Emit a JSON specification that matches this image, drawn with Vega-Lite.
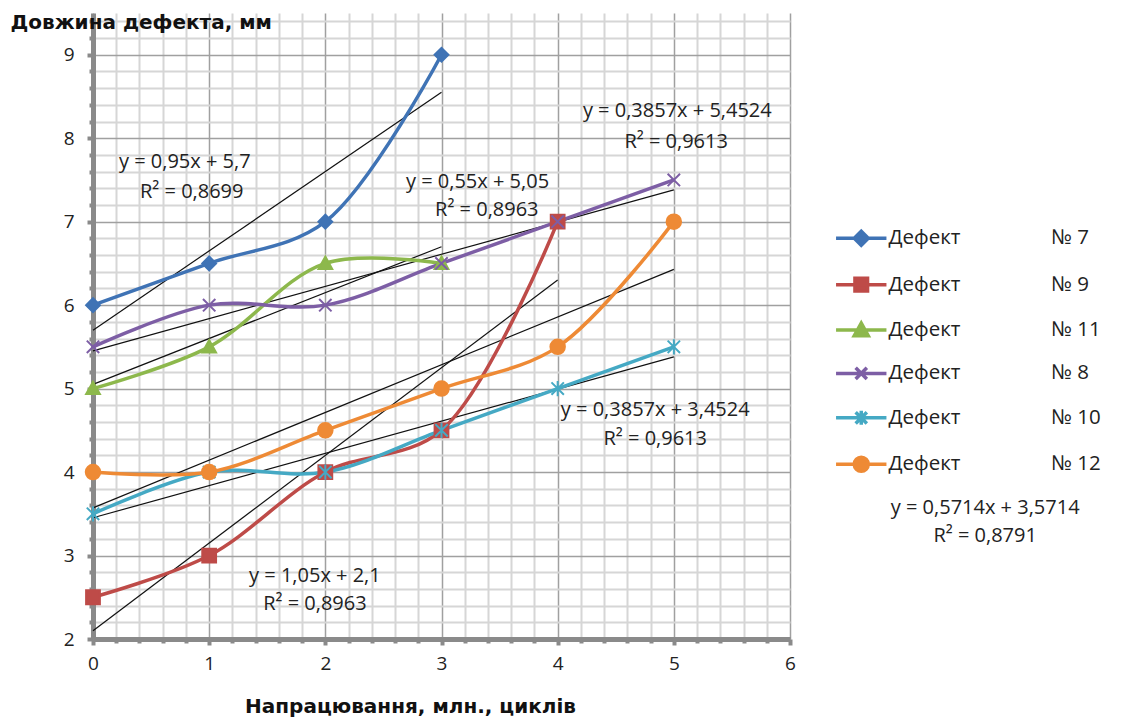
{
  "$schema": "https://vega.github.io/schema/vega-lite/v6.json",
  "autosize": "none",
  "width": 697,
  "height": 626,
  "padding": {"left": 93, "top": 13, "right": 335, "bottom": 79},
  "background": "white",
  "config": {
    "view": {"stroke": null},
    "font": "Open Sans",
    "legend": {
      "orient": "none", "legendX": 758, "legendY": 215,
      "symbolSize": 196, "symbolStrokeWidth": 3.5, "symbolOpacity": 1,
      "labelFont": "Open Sans", "labelFontSize": 20.5, "labelColor": "#222", "labelOffset": 17,
      "labelLimit": 400, "rowPadding": 17.4
    }
  },
  "datasets": {
    "pts": [
      {"series": "Дефект № 7", "x": 0, "y": 6},
      {"series": "Дефект № 7", "x": 1, "y": 6.5},
      {"series": "Дефект № 7", "x": 2, "y": 7},
      {"series": "Дефект № 7", "x": 3, "y": 9},
      {"series": "Дефект № 9", "x": 0, "y": 2.5},
      {"series": "Дефект № 9", "x": 1, "y": 3},
      {"series": "Дефект № 9", "x": 2, "y": 4},
      {"series": "Дефект № 9", "x": 3, "y": 4.5},
      {"series": "Дефект № 9", "x": 4, "y": 7},
      {"series": "Дефект № 11", "x": 0, "y": 5},
      {"series": "Дефект № 11", "x": 1, "y": 5.5},
      {"series": "Дефект № 11", "x": 2, "y": 6.5},
      {"series": "Дефект № 11", "x": 3, "y": 6.5},
      {"series": "Дефект № 8", "x": 0, "y": 5.5},
      {"series": "Дефект № 8", "x": 1, "y": 6},
      {"series": "Дефект № 8", "x": 2, "y": 6},
      {"series": "Дефект № 8", "x": 3, "y": 6.5},
      {"series": "Дефект № 8", "x": 4, "y": 7},
      {"series": "Дефект № 8", "x": 5, "y": 7.5},
      {"series": "Дефект № 10", "x": 0, "y": 3.5},
      {"series": "Дефект № 10", "x": 1, "y": 4},
      {"series": "Дефект № 10", "x": 2, "y": 4},
      {"series": "Дефект № 10", "x": 3, "y": 4.5},
      {"series": "Дефект № 10", "x": 4, "y": 5},
      {"series": "Дефект № 10", "x": 5, "y": 5.5},
      {"series": "Дефект № 12", "x": 0, "y": 4},
      {"series": "Дефект № 12", "x": 1, "y": 4},
      {"series": "Дефект № 12", "x": 2, "y": 4.5},
      {"series": "Дефект № 12", "x": 3, "y": 5},
      {"series": "Дефект № 12", "x": 4, "y": 5.5},
      {"series": "Дефект № 12", "x": 5, "y": 7}
    ],
    "trend": [
      {"series": "Дефект № 7", "x": 0, "y": 5.7},
      {"series": "Дефект № 7", "x": 3, "y": 8.55},
      {"series": "Дефект № 9", "x": 0, "y": 2.1},
      {"series": "Дефект № 9", "x": 4, "y": 6.3},
      {"series": "Дефект № 11", "x": 0, "y": 5.05},
      {"series": "Дефект № 11", "x": 3, "y": 6.7},
      {"series": "Дефект № 8", "x": 0, "y": 5.4524},
      {"series": "Дефект № 8", "x": 5, "y": 7.381},
      {"series": "Дефект № 10", "x": 0, "y": 3.4524},
      {"series": "Дефект № 10", "x": 5, "y": 5.381},
      {"series": "Дефект № 12", "x": 0, "y": 3.5714},
      {"series": "Дефект № 12", "x": 5, "y": 6.4284}
    ],
    "notes": [
      {"label": "y = 0,95x + 5,7", "x": 0.79, "y": 7.71},
      {"label": "R² = 0,8699", "x": 0.85, "y": 7.36},
      {"label": "y = 0,3857x + 5,4524", "x": 5.03, "y": 8.32},
      {"label": "R² = 0,9613", "x": 5.02, "y": 7.96},
      {"label": "y = 0,55x + 5,05", "x": 3.31, "y": 7.48},
      {"label": "R² = 0,8963", "x": 3.39, "y": 7.14},
      {"label": "y = 0,3857x + 3,4524", "x": 4.84, "y": 4.74},
      {"label": "R² = 0,9613", "x": 4.84, "y": 4.4},
      {"label": "y = 1,05x + 2,1", "x": 1.91, "y": 2.755},
      {"label": "R² = 0,8963", "x": 1.91, "y": 2.42},
      {"label": "y = 0,5714x + 3,5714", "x": 7.68, "y": 3.57},
      {"label": "R² = 0,8791", "x": 7.68, "y": 3.235}
    ]
  },
  "encoding": {
    "x": {
      "field": "x", "type": "quantitative",
      "scale": {"domain": [0, 6], "nice": false, "zero": false},
      "axis": {
        "title": "Напрацювання, млн., циклів",
        "titleFont": "DejaVu Sans", "titleFontWeight": "bold", "titleFontSize": 20, "titleColor": "#111",
        "titleX": 317, "titleY": 73, "titleAnchor": null, "titleAlign": "center", "titleBaseline": "alphabetic",
        "values": [0,0.2,0.4,0.6,0.8,1,1.2,1.4,1.6,1.8,2,2.2,2.4,2.6,2.8,3,3.2,3.4,3.6,3.8,4,4.2,4.4,4.6,4.8,5,5.2,5.4,5.6,5.8,6],
        "tickCount": 100, "tickMinStep": 0.1,
        "labelExpr": "abs(datum.value - round(datum.value)) < 0.001 ? '' + round(datum.value) : ''",
        "labelFont": "Open Sans", "labelFontSize": 19, "labelColor": "#222", "labelPadding": 9, "labelFlush": false, "labelOverlap": false,
        "grid": true,
        "gridColor": {"condition": {"test": "abs(datum.value - round(datum.value)) < 0.001", "value": "#a0a0a0"}, "value": "#d6d6d6"},
        "gridWidth": {"condition": {"test": "abs(datum.value - round(datum.value)) < 0.001", "value": 1.5}, "value": 2},
        "domainColor": "#8a8a8a", "domainWidth": 5,
        "tickColor": "#8a8a8a", "tickWidth": 4,
        "tickSize": {"condition": {"test": "abs(datum.value - round(datum.value)) < 0.001", "value": 6}, "value": 4}
      }
    },
    "y": {
      "field": "y", "type": "quantitative",
      "scale": {"domain": [2, 9.5], "nice": false, "zero": false},
      "axis": {
        "title": "Довжина дефекта, мм",
        "titleFont": "DejaVu Sans", "titleFontWeight": "bold", "titleFontSize": 20, "titleColor": "#111",
        "titleAngle": 0, "titleX": -83, "titleY": 9, "titleAlign": "left", "titleBaseline": "middle", "titleAnchor": null,
        "values": [2,2.2,2.4,2.6,2.8,3,3.2,3.4,3.6,3.8,4,4.2,4.4,4.6,4.8,5,5.2,5.4,5.6,5.8,6,6.2,6.4,6.6,6.8,7,7.2,7.4,7.6,7.8,8,8.2,8.4,8.6,8.8,9,9.2,9.4],
        "tickCount": 100, "tickMinStep": 0.1,
        "labelExpr": "abs(datum.value - round(datum.value)) < 0.001 ? '' + round(datum.value) : ''",
        "labelFont": "Open Sans", "labelFontSize": 19, "labelColor": "#222", "labelPadding": 13, "labelOverlap": false,
        "grid": true,
        "gridColor": {"condition": {"test": "abs(datum.value - round(datum.value)) < 0.001", "value": "#a0a0a0"}, "value": "#d6d6d6"},
        "gridWidth": {"condition": {"test": "abs(datum.value - round(datum.value)) < 0.001", "value": 1.5}, "value": 2},
        "domainColor": "#8a8a8a", "domainWidth": 5,
        "tickColor": "#8a8a8a", "tickWidth": 4,
        "tickSize": {"condition": {"test": "abs(datum.value - round(datum.value)) < 0.001", "value": 6}, "value": 4}
      }
    }
  },
  "layer": [
    {
      "data": {"name": "trend"},
      "mark": {"type": "line", "color": "#111", "strokeWidth": 1.2},
      "encoding": {"detail": {"field": "series"}}
    },
    {
      "data": {"name": "pts"},
      "mark": {"type": "point", "filled": true, "opacity": 0, "size": 196, "strokeWidth": 3.5},
      "encoding": {
        "fill": {
          "field": "series", "type": "nominal", "title": null,
          "scale": {
            "domain": ["Дефект № 7", "Дефект № 9", "Дефект № 11", "Дефект № 8", "Дефект № 10", "Дефект № 12"],
            "range": ["#3F73B5", "#BE4B48", "#8DB84C", "#7D5EA5", "#45A9C4", "#EE8A35"]
          }
        },
        "stroke": {
          "field": "series", "type": "nominal", "title": null,
          "scale": {
            "domain": ["Дефект № 7", "Дефект № 9", "Дефект № 11", "Дефект № 8", "Дефект № 10", "Дефект № 12"],
            "range": ["#3F73B5", "#BE4B48", "#8DB84C", "#7D5EA5", "#45A9C4", "#EE8A35"]
          }
        },
        "shape": {
          "field": "series", "type": "nominal", "title": null,
          "scale": {
            "domain": ["Дефект № 7", "Дефект № 9", "Дефект № 11", "Дефект № 8", "Дефект № 10", "Дефект № 12"],
            "range": [
              "M-3.6,0H3.6M0,-1L1,0L0,1L-1,0Z",
              "M-3.6,0H3.6M-0.9,-0.9H0.9V0.9H-0.9Z",
              "M-3.6,0H3.6M0,-1L1,0.8H-1Z",
              "M-3.6,0H3.6M-0.8,-0.8L0.8,0.8M-0.8,0.8L0.8,-0.8",
              "M-3.6,0H3.6M-0.8,-0.8L0.8,0.8M-0.8,0.8L0.8,-0.8M0,-1V1",
              "M-3.6,0H3.6M1,0A1,1 0 1,1 -1,0A1,1 0 1,1 1,0Z"
            ]
          },
          "legend": {
            "labelExpr": "replace(datum.label, ' №', '\u00a0\u00a0\u00a0\u00a0\u00a0\u00a0\u00a0\u00a0\u00a0\u00a0\u00a0\u00a0\u00a0\u00a0\u00a0\u00a0\u00a0№')"
          }
        }
      }
    },
    {
      "data": {"name": "pts"},
      "mark": {"type": "line", "interpolate": "catmull-rom", "strokeWidth": 3.5},
      "encoding": {
        "stroke": {"field": "series", "type": "nominal", "title": null}
      }
    },
    {
      "data": {"name": "pts"},
      "transform": [{"filter": "datum.series === 'Дефект № 7'"}],
      "mark": {"type": "point", "filled": true, "opacity": 1, "size": 190, "strokeWidth": 2, "shape": "diamond"},
      "encoding": {
        "fill": {"field": "series", "type": "nominal", "title": null},
        "stroke": {"field": "series", "type": "nominal", "title": null}
      }
    },
    {
      "data": {"name": "pts"},
      "transform": [{"filter": "datum.series === 'Дефект № 9'"}],
      "mark": {"type": "point", "filled": true, "opacity": 1, "size": 190, "strokeWidth": 2, "shape": "square"},
      "encoding": {
        "fill": {"field": "series", "type": "nominal", "title": null},
        "stroke": {"field": "series", "type": "nominal", "title": null}
      }
    },
    {
      "data": {"name": "pts"},
      "transform": [{"filter": "datum.series === 'Дефект № 11'"}],
      "mark": {"type": "point", "filled": true, "opacity": 1, "size": 190, "strokeWidth": 2, "shape": "M0,-1L1,0.8H-1Z"},
      "encoding": {
        "fill": {"field": "series", "type": "nominal", "title": null},
        "stroke": {"field": "series", "type": "nominal", "title": null}
      }
    },
    {
      "data": {"name": "pts"},
      "transform": [{"filter": "datum.series === 'Дефект № 8'"}],
      "mark": {"type": "point", "filled": true, "opacity": 1, "size": 190, "strokeWidth": 2, "shape": "M-0.9,-0.9L0.9,0.9M-0.9,0.9L0.9,-0.9"},
      "encoding": {
        "fill": {"field": "series", "type": "nominal", "title": null},
        "stroke": {"field": "series", "type": "nominal", "title": null}
      }
    },
    {
      "data": {"name": "pts"},
      "transform": [{"filter": "datum.series === 'Дефект № 10'"}],
      "mark": {"type": "point", "filled": true, "opacity": 1, "size": 190, "strokeWidth": 2, "shape": "M-0.9,-0.9L0.9,0.9M-0.9,0.9L0.9,-0.9M0,-1.1V1.1"},
      "encoding": {
        "fill": {"field": "series", "type": "nominal", "title": null},
        "stroke": {"field": "series", "type": "nominal", "title": null}
      }
    },
    {
      "data": {"name": "pts"},
      "transform": [{"filter": "datum.series === 'Дефект № 12'"}],
      "mark": {"type": "point", "filled": true, "opacity": 1, "size": 210, "strokeWidth": 2, "shape": "circle"},
      "encoding": {
        "fill": {"field": "series", "type": "nominal", "title": null},
        "stroke": {"field": "series", "type": "nominal", "title": null}
      }
    },
    {
      "data": {"name": "notes"},
      "mark": {"type": "text", "font": "Open Sans", "fontSize": 20, "color": "#222", "align": "center", "baseline": "middle"},
      "encoding": {"text": {"field": "label"}}
    }
  ]
}
